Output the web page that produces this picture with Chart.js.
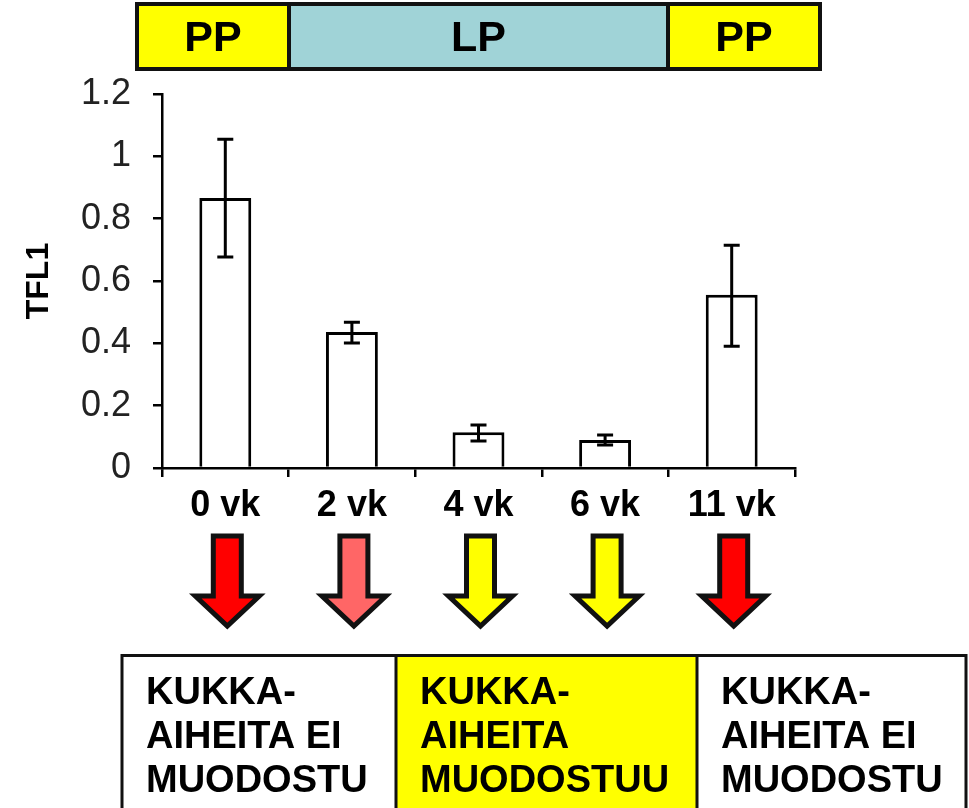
<!DOCTYPE html>
<html>
<head>
<meta charset="utf-8">
<script src="https://cdn.jsdelivr.net/npm/chart.js@4.4.1/dist/chart.umd.min.js"></script>
<style>
  html, body { margin: 0; padding: 0; background: #fff; }
  #wrap { width: 969px; height: 808px; }
</style>
</head>
<body>
<div id="wrap"><canvas id="chart" width="969" height="808"></canvas></div>
<script>
const weeks = ['0 vk', '2 vk', '4 vk', '6 vk', '11 vk'];
const tfl1 = [0.866, 0.436, 0.115, 0.090, 0.556];
const errLow = [0.677, 0.401, 0.087, 0.074, 0.391];
const errHigh = [1.055, 0.468, 0.138, 0.106, 0.715];

const bandLabels = ['PP', 'LP', 'PP'];
const outcomeText = [
  ['KUKKA-', 'AIHEITA EI', 'MUODOSTU'],
  ['KUKKA-', 'AIHEITA', 'MUODOSTUU'],
  ['KUKKA-', 'AIHEITA EI', 'MUODOSTU']
];

// styles for the decorations
const arrowColors = ['#ff0000', '#ff6666', '#ffff00', '#ffff00', '#ff0000'];
const bandColors = ['#ffff00', '#a0d3d7', '#ffff00'];
const bandEdges = [137, 289, 668, 820];
const boxColors = ['#ffffff', '#ffff00', '#ffffff'];
const boxEdges = [122, 396, 697, 966];
const FONT = '"Liberation Sans", Arial, sans-serif';

const errorBars = {
  id: 'errorBars',
  afterDatasetsDraw(chart) {
    const ctx = chart.ctx;
    const y = chart.scales.y;
    const meta = chart.getDatasetMeta(0);
    ctx.save();
    ctx.strokeStyle = '#000';
    ctx.lineWidth = 3;
    meta.data.forEach((bar, i) => {
      const top = y.getPixelForValue(errHigh[i]);
      const bot = y.getPixelForValue(errLow[i]);
      ctx.beginPath();
      ctx.moveTo(bar.x, top);
      ctx.lineTo(bar.x, bot);
      ctx.moveTo(bar.x - 8, top);
      ctx.lineTo(bar.x + 8, top);
      ctx.moveTo(bar.x - 8, bot);
      ctx.lineTo(bar.x + 8, bot);
      ctx.stroke();
    });
    ctx.restore();
  }
};

const decorations = {
  id: 'decorations',
  afterDraw(chart) {
    const ctx = chart.ctx;
    const x = chart.scales.x;
    ctx.save();

    // period band on top
    for (let i = 0; i < bandLabels.length; i++) {
      ctx.fillStyle = bandColors[i];
      ctx.fillRect(bandEdges[i], 4, bandEdges[i + 1] - bandEdges[i], 65);
    }
    ctx.strokeStyle = '#111';
    ctx.lineWidth = 4;
    ctx.strokeRect(bandEdges[0], 4, bandEdges[3] - bandEdges[0], 65);
    ctx.beginPath();
    ctx.moveTo(bandEdges[1], 4); ctx.lineTo(bandEdges[1], 69);
    ctx.moveTo(bandEdges[2], 4); ctx.lineTo(bandEdges[2], 69);
    ctx.stroke();
    ctx.fillStyle = '#000';
    ctx.font = 'bold 43px ' + FONT;
    ctx.textAlign = 'center';
    ctx.textBaseline = 'middle';
    for (let i = 0; i < bandLabels.length; i++) {
      ctx.fillText(bandLabels[i], (bandEdges[i] + bandEdges[i + 1]) / 2, 39);
    }

    // arrows under each week
    ctx.lineWidth = 5;
    ctx.lineJoin = 'miter';
    weeks.forEach((w, i) => {
      const cx = x.getPixelForValue(i) + 2;
      ctx.beginPath();
      ctx.moveTo(cx - 14, 536);
      ctx.lineTo(cx + 14, 536);
      ctx.lineTo(cx + 14, 596);
      ctx.lineTo(cx + 32, 596);
      ctx.lineTo(cx, 626);
      ctx.lineTo(cx - 32, 596);
      ctx.lineTo(cx - 14, 596);
      ctx.closePath();
      ctx.fillStyle = arrowColors[i];
      ctx.fill();
      ctx.strokeStyle = '#111';
      ctx.stroke();
    });

    // outcome boxes at the bottom
    for (let i = 0; i < outcomeText.length; i++) {
      ctx.fillStyle = boxColors[i];
      ctx.fillRect(boxEdges[i], 655, boxEdges[i + 1] - boxEdges[i], 160);
    }
    ctx.strokeStyle = '#111';
    ctx.lineWidth = 3;
    ctx.beginPath();
    ctx.moveTo(boxEdges[0], 820); ctx.lineTo(boxEdges[0], 655.5);
    ctx.lineTo(boxEdges[3], 655.5); ctx.lineTo(boxEdges[3], 820);
    ctx.moveTo(boxEdges[1], 655); ctx.lineTo(boxEdges[1], 820);
    ctx.moveTo(boxEdges[2], 655); ctx.lineTo(boxEdges[2], 820);
    ctx.stroke();
    ctx.fillStyle = '#000';
    ctx.font = 'bold 38px ' + FONT;
    ctx.textAlign = 'left';
    ctx.textBaseline = 'middle';
    outcomeText.forEach((lines, i) => {
      lines.forEach((t, j) => {
        ctx.fillText(t, boxEdges[i] + 24, 694 + j * 44);
      });
    });
    ctx.restore();
  }
};

new Chart(document.getElementById('chart').getContext('2d'), {
  type: 'bar',
  data: {
    labels: weeks,
    datasets: [{
      data: tfl1,
      backgroundColor: '#fff',
      borderColor: '#000',
      borderWidth: 3,
      barPercentage: 0.41,
      categoryPercentage: 1
    }]
  },
  options: {
    responsive: false,
    animation: false,
    devicePixelRatio: 1,
    layout: { padding: { top: 94, right: 174, bottom: 0, left: 0 } },
    plugins: {
      legend: { display: false },
      tooltip: { enabled: false }
    },
    scales: {
      x: {
        grid: { drawOnChartArea: false, color: '#000', lineWidth: 2.5, tickLength: 9, offset: true },
        border: { color: '#000', width: 2.5 },
        ticks: { color: '#000', font: { family: FONT, size: 36, weight: 'bold' }, padding: 7 },
        afterFit: s => { s.height = 340; }
      },
      y: {
        min: 0,
        max: 1.2,
        grid: { drawOnChartArea: false, color: '#000', lineWidth: 2.5, tickLength: 9 },
        border: { color: '#000', width: 2.5 },
        ticks: {
          stepSize: 0.2,
          color: '#222',
          font: { family: FONT, size: 36 },
          padding: 22,
          callback: v => String(Math.round(v * 10) / 10)
        },
        title: {
          display: true,
          text: 'TFL1',
          color: '#000',
          font: { family: FONT, size: 32, weight: 'bold' },
          padding: { top: 20, bottom: 0 }
        },
        afterFit: s => { s.width = 162; }
      }
    }
  },
  plugins: [errorBars, decorations]
});
</script>
</body>
</html>
